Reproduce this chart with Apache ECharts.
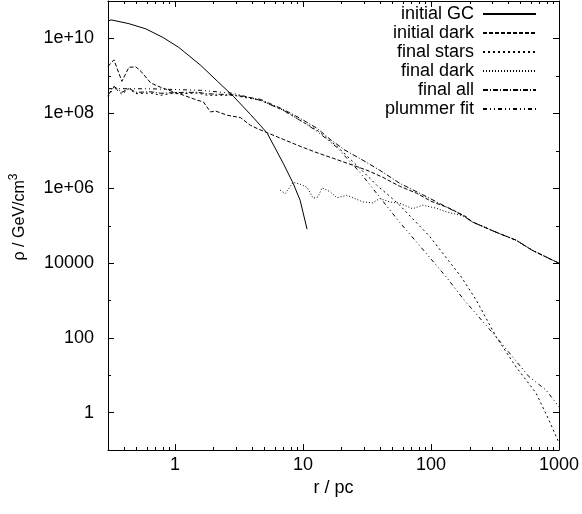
<!DOCTYPE html>
<html><head><meta charset="utf-8">
<script src="https://cdn.jsdelivr.net/npm/echarts@6/dist/echarts.min.js"></script>
<style>html,body{margin:0;padding:0;background:#fff}#c{width:582px;height:514px}</style>
</head><body><div id="c"></div>
<script>
// ---- data (r in pc, rho in GeV/cm^3) ----
const seriesNames = ['initial GC', 'initial dark', 'final stars', 'final dark', 'final all', 'plummer fit'];

const initialGC_r   = [0.300, 0.317, 0.346, 0.437, 0.592, 0.803, 1.07, 1.59, 2.15, 2.86, 3.88, 4.64, 5.26, 7.01, 8.38, 9.50, 10.77];
const initialGC_rho = [2.90e10, 3.13e10, 2.94e10, 2.48e10, 1.80e10, 1.07e10, 5.77e9, 1.91e9, 7.13e8, 2.84e8, 9.38e7, 4.77e7, 2.92e7, 4.61e6, 1.35e6, 4.74e5, 7.96e4];

const initialDark_r   = [0.300, 0.334, 0.385, 0.437, 0.495, 0.542, 0.648, 0.775, 0.879, 0.978, 1.17, 1.50, 1.67, 1.90, 2.07, 2.57, 3.25, 3.88, 4.40, 5.26, 7.01, 9.50, 12.9, 17.2, 23.3, 31.6, 42.0, 56.9, 77.3, 100, 139, 189, 210, 341, 463, 616, 835, 1000];
const initialDark_rho = [1.79e9, 2.67e9, 7.13e8, 1.69e9, 1.74e9, 1.32e9, 6.42e8, 4.93e8, 4.23e8, 3.70e8, 3.02e8, 2.22e8, 2.00e8, 1.08e8, 1.15e8, 8.81e7, 7.66e7, 4.77e7, 3.89e7, 3.01e7, 2.01e7, 1.31e7, 8.79e6, 6.27e6, 4.34e6, 3.00e6, 1.95e6, 1.12e6, 7.28e5, 4.46e5, 2.90e5, 1.70e5, 1.25e5, 6.11e4, 4.05e4, 2.19e4, 1.32e4, 9.85e3];

const finalStars_r   = [0.300, 0.334, 0.385, 0.437, 0.495, 0.648, 0.775, 0.927, 1.17, 1.50, 1.80, 2.27, 2.86, 4.64, 7.01, 9.50, 12.9, 18.4, 27.8, 37.7, 47.6, 56.9, 97.4, 173, 226, 324, 463, 662, 835, 1000];
const finalStars_rho = [2.72e8, 5.02e8, 3.21e8, 4.55e8, 3.35e8, 3.47e8, 3.02e8, 3.35e8, 3.35e8, 3.47e8, 3.02e8, 3.02e8, 3.02e8, 2.22e8, 1.20e8, 6.48e7, 3.51e7, 1.31e7, 3.39e6, 1.19e6, 6.06e5, 3.49e5, 5.18e4, 4.16e3, 1.01e3, 104, 16.4, 3.33, 0.632, 0.154];

const finalDark_r   = [6.64, 7.27, 8.38, 9.50, 10.77, 12.0, 13.1, 14.1, 16.3, 18.4, 22.0, 29.4, 35.1, 39.8, 47.6, 56.9, 71.9, 86.0, 110, 132, 176, 210, 341, 463, 616, 835, 1000];
const finalDark_rho = [8.77e5, 7.15e5, 1.43e6, 1.27e6, 1.05e6, 5.36e5, 5.81e5, 1.02e6, 8.0e5, 5.52e5, 6.44e5, 4.27e5, 4.02e5, 5.26e5, 4.27e5, 3.94e5, 2.81e5, 3.49e5, 2.90e5, 2.31e5, 1.83e5, 1.25e5, 6.11e4, 4.05e4, 2.19e4, 1.32e4, 9.85e3];

const finalAll_r   = [0.300, 0.334, 0.385, 0.437, 0.495, 0.648, 0.775, 0.927, 1.17, 1.50, 1.80, 2.27, 2.86, 4.64, 7.01, 9.50, 12.9, 16.3, 21.3, 29.4, 39.8, 56.9, 97.4, 176, 210, 341, 463, 616, 835, 1000];
const finalAll_rho = [3.02e8, 5.25e8, 3.62e8, 4.64e8, 3.62e8, 3.74e8, 3.41e8, 3.52e8, 3.62e8, 3.62e8, 3.31e8, 3.21e8, 3.11e8, 2.36e8, 1.27e8, 7.33e7, 3.96e7, 2.01e7, 1.03e7, 5.54e6, 3.00e6, 1.35e6, 5.36e5, 1.88e5, 1.25e5, 6.11e4, 4.05e4, 2.19e4, 1.32e4, 9.85e3];

const plummer_r   = [0.300, 0.648, 1.59, 2.86, 4.64, 7.01, 9.50, 12.9, 18.4, 27.8, 39.8, 56.9, 97.4, 132, 182, 324, 584, 792, 1000];
const plummer_rho = [4.55e8, 4.50e8, 4.10e8, 3.41e8, 2.22e8, 1.20e8, 6.48e7, 3.30e7, 1.23e7, 2.65e6, 5.70e5, 1.22e5, 1.42e4, 4.16e3, 1.01e3, 104, 9.06, 4.00, 1.43];

// axis ranges and tick values
const xRange = [0.3, 1000];
const yRange = [0.1, 1e11];
const xMinorTicks = [0.4, 0.5, 0.6, 0.7, 0.8, 0.9, 2, 3, 4, 5, 6, 7, 8, 9, 20, 30, 40, 50, 60, 70, 80, 90, 200, 300, 400, 500, 600, 700, 800, 900];
const yMinorTicks = [10, 1000, 1e5, 1e7, 1e9];

// ---- chart ----
const FONT = 'Liberation Sans';
const pairs = (r, v) => r.map((x, i) => [x, v[i]]);
const dashes = {
  'initial GC': 'solid',
  'initial dark': [4, 2],
  'final stars': [2, 3],
  'final dark': [1, 2],
  'final all': [5, 2, 1, 2],
  'plummer fit': [4, 3, 1, 3, 1, 3]
};
const dataFor = {
  'initial GC': pairs(initialGC_r, initialGC_rho),
  'initial dark': pairs(initialDark_r, initialDark_rho),
  'final stars': pairs(finalStars_r, finalStars_rho),
  'final dark': pairs(finalDark_r, finalDark_rho),
  'final all': pairs(finalAll_r, finalAll_rho),
  'plummer fit': pairs(plummer_r, plummer_rho)
};

function isPow(v) { const l = Math.log10(v); return Math.abs(l - Math.round(l)) < 1e-6; }
function xFmt(v) { return isPow(v) && v >= 1 ? String(Math.round(v)) : ''; }
function yFmt(v) {
  if (!isPow(v)) return '';
  const e = Math.round(Math.log10(v));
  if (e < 0 || e % 2 !== 0) return '';
  if (e <= 4) return String(Math.round(v));
  return '1e+' + (e < 10 ? '0' + e : e);
}

function axisCommon() {
  return {
    axisLine: { show: true, onZero: false, lineStyle: { color: '#000', width: 1 } },
    axisTick: { show: true, inside: true, length: 6, lineStyle: { color: '#000', width: 1 } },
    splitLine: { show: false },
    minorTick: { show: false }
  };
}

const series = seriesNames.map(n => ({
  name: n, type: 'line', data: dataFor[n], xAxisIndex: 0, yAxisIndex: 0,
  showSymbol: false, symbol: 'none', silent: true,
  lineStyle: { color: '#000', width: 1, type: dashes[n] },
  itemStyle: { color: '#000' }
}));

// minor ticks (log-spaced), placed through the axes' own scales
series.push({
  type: 'custom', xAxisIndex: 0, yAxisIndex: 0, silent: true, z: 5,
  data: xMinorTicks.map(v => [v, 1]),
  renderItem: function (params, api) {
    const cs = params.coordSys;
    const x = Math.round(api.coord([api.value(0), 1])[0]) + 0.5;
    const b = cs.y + cs.height, t = cs.y;
    return { type: 'group', children: [
      { type: 'line', shape: { x1: x, y1: b, x2: x, y2: b - 3 }, style: { stroke: '#000', lineWidth: 1 } },
      { type: 'line', shape: { x1: x, y1: t, x2: x, y2: t + 3 }, style: { stroke: '#000', lineWidth: 1 } }
    ]};
  }
});
series.push({
  type: 'custom', xAxisIndex: 0, yAxisIndex: 0, silent: true, z: 5,
  data: yMinorTicks.map(v => [1, v]),
  renderItem: function (params, api) {
    const cs = params.coordSys;
    const y = Math.round(api.coord([1, api.value(1)])[1]) + 0.5;
    const l = cs.x, r = cs.x + cs.width;
    return { type: 'group', children: [
      { type: 'line', shape: { x1: l, y1: y, x2: l + 3, y2: y }, style: { stroke: '#000', lineWidth: 1 } },
      { type: 'line', shape: { x1: r, y1: y, x2: r - 3, y2: y }, style: { stroke: '#000', lineWidth: 1 } }
    ]};
  }
});

const option = {
  animation: false,
  backgroundColor: '#fff',
  textStyle: { fontFamily: FONT, color: '#000' },
  grid: { left: 107, right: 22, top: 1, bottom: 64 },
  legend: {
    data: seriesNames, orient: 'vertical', right: 45, top: 4.5, padding: 0,
    align: 'right', itemWidth: 53, itemHeight: 19, itemGap: 0, selectedMode: false,
    itemStyle: { opacity: 0 },
    textStyle: { fontFamily: FONT, fontSize: 18, color: '#000', lineHeight: 19, padding: [0, 4, 0, 0] }
  },
  xAxis: [
    Object.assign(axisCommon(), {
      type: 'log', logBase: 10, min: xRange[0], max: xRange[1], position: 'bottom',
      axisLabel: { formatter: xFmt, color: '#000', fontSize: 18, fontFamily: FONT, margin: 6, showMinLabel: false },
      name: 'r / pc', nameLocation: 'middle', nameGap: 18,
      nameTextStyle: { fontFamily: FONT, fontSize: 18, color: '#000' }
    }),
    Object.assign(axisCommon(), {
      type: 'log', logBase: 10, min: xRange[0], max: xRange[1], position: 'top',
      axisLabel: { show: false }
    })
  ],
  yAxis: [
    Object.assign(axisCommon(), {
      type: 'log', logBase: 100, min: yRange[0], max: yRange[1], position: 'left',
      axisLabel: { formatter: yFmt, color: '#000', fontSize: 18, fontFamily: FONT, margin: 14 },
      name: '{a|ρ / GeV/cm}{s|3}', nameLocation: 'middle', nameGap: 80,
      nameTextStyle: {
        fontFamily: FONT, fontSize: 16, color: '#000', padding: [0, 0, 0, 17],
        rich: { a: { fontFamily: FONT, fontSize: 16, color: '#000', lineHeight: 20, verticalAlign: 'bottom' },
                s: { fontFamily: FONT, fontSize: 12, color: '#000', lineHeight: 20, verticalAlign: 'top' } }
      }
    }),
    Object.assign(axisCommon(), {
      type: 'log', logBase: 100, min: yRange[0], max: yRange[1], position: 'right',
      axisLabel: { show: false }
    })
  ],
  series: series
};

const chart = echarts.init(document.getElementById('c'), null, { renderer: 'canvas' });
chart.setOption(option);
</script>
</body></html>
